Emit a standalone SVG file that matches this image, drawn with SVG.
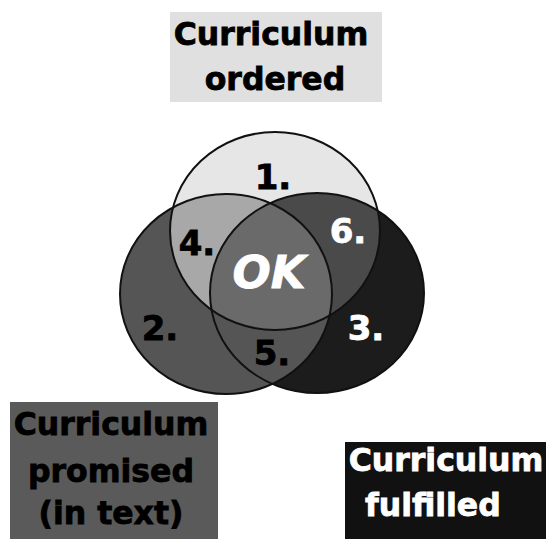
<svg xmlns="http://www.w3.org/2000/svg" width="546" height="539" viewBox="0 0 546 539">
<style>
.lbl{font-family:"DejaVu Sans","Liberation Sans",sans-serif;font-weight:bold;stroke-width:0.8;}
.box{font-size:31.5px;text-anchor:middle;}
.num{font-size:34px;text-anchor:middle;}
.blk{fill:#000;stroke:#000;}
.wht{fill:#fff;stroke:#fff;}
.ring{fill:none;stroke:#111;stroke-width:2;}
</style>
<defs>
<ellipse id="cT" cx="275" cy="231" rx="105" ry="99"/>
<ellipse id="cL" cx="226" cy="294" rx="106" ry="100"/>
<ellipse id="cR" cx="317" cy="293" rx="107" ry="100"/>
<clipPath id="clipT"><use href="#cT"/></clipPath>
<clipPath id="clipL"><use href="#cL"/></clipPath>
<clipPath id="clipR"><use href="#cR"/></clipPath>
</defs>
<rect width="546" height="539" fill="#ffffff"/>
<g id="node-ordered">
<rect x="170" y="12" width="212" height="90" fill="#e0e0e0"/>
<text class="lbl box blk" x="271" y="45">Curriculum</text>
<text class="lbl box blk" x="275" y="90">ordered</text>
</g>
<g id="venn">
<use href="#cL" fill="#555555"/>
<use href="#cR" fill="#1c1c1c"/>
<use href="#cT" fill="#e6e6e6"/>
<g clip-path="url(#clipT)"><use href="#cL" fill="#a8a8a8"/><use href="#cR" fill="#4a4a4a"/></g>
<g clip-path="url(#clipL)"><use href="#cR" fill="#555555"/></g>
<g clip-path="url(#clipL)"><g clip-path="url(#clipR)"><use href="#cT" fill="#6a6a6a"/></g></g>
<use href="#cT" class="ring"/>
<use href="#cL" class="ring"/>
<use href="#cR" class="ring"/>
<text class="lbl num blk" x="273" y="189">1.</text>
<text class="lbl num blk" x="197" y="255">4.</text>
<text class="lbl num wht" x="348" y="243">6.</text>
<text class="lbl wht" x="269" y="288" font-size="45" font-style="italic" text-anchor="middle">OK</text>
<text class="lbl num blk" x="160" y="340">2.</text>
<text class="lbl num blk" x="272" y="365">5.</text>
<text class="lbl num wht" x="366" y="340">3.</text>
</g>
<g id="node-promised">
<rect x="10" y="402" width="208" height="137" fill="#5a5a5a"/>
<text class="lbl box blk" x="111" y="435">Curriculum</text>
<text class="lbl box blk" x="111" y="482">promised</text>
<text class="lbl box blk" x="111" y="524">(in text)</text>
</g>
<g id="node-fulfilled">
<rect x="345" y="442" width="201" height="97" fill="#111111"/>
<text class="lbl box wht" x="446" y="471">Curriculum</text>
<text class="lbl wht" x="365" y="516" font-size="31.5">fulfilled</text>
</g>
<g id="connectors"/>
</svg>
